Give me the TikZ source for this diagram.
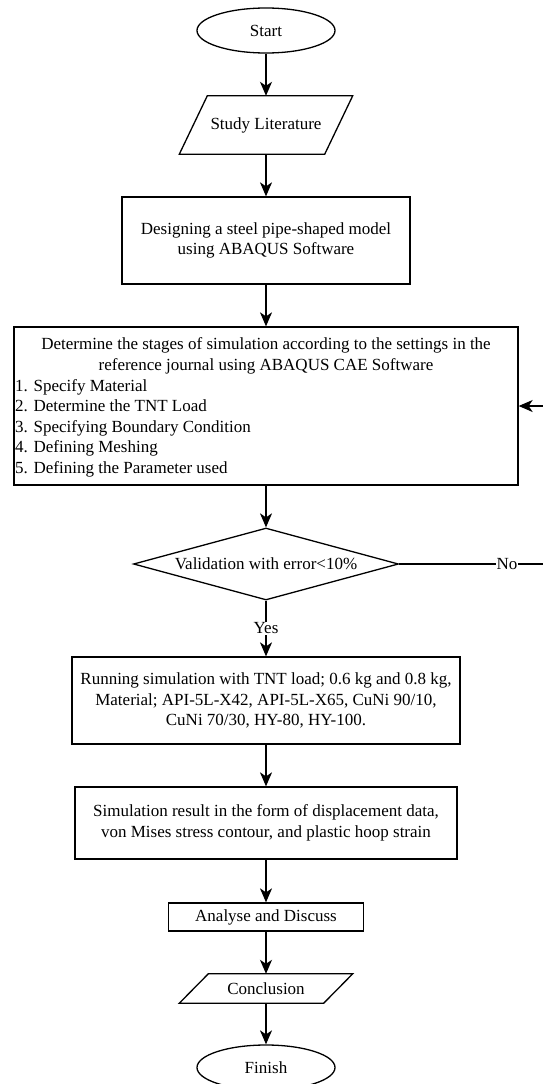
\documentclass[tikz,border=0pt]{standalone}
\usepackage{fontspec}
\setmainfont{Liberation Serif}
\usetikzlibrary{shapes.geometric,arrows.meta}
\begin{document}
\begin{tikzpicture}[x=1pt,y=-1pt,
  every node/.style={font=\fontsize{17}{20.5}\selectfont},
  base/.style={draw, line width=1.3pt, inner sep=0pt},
  box/.style={base, rectangle, align=center},
  term/.style={base, ellipse},
  dec/.style={base, diamond, aspect=3.68},
  para/.style={rectangle, inner sep=0pt},
  paraline/.style={line width=1.3pt, line join=miter},
  arr/.style={line width=1.3pt, -{Stealth[length=14pt,width=12pt,inset=4pt]}},
  lbl/.style={fill=white, inner sep=1pt}
]
\useasboundingbox (0,0) rectangle (543,1084);

\node[term, minimum width=138pt, minimum height=45pt] (start) at (266,30.5) {Start};
\node[para, minimum width=173pt, minimum height=58pt] (study) at (266,125) {Study Literature};
\draw[paraline] ([xshift=28pt]study.north west) -- (study.north east) -- ([xshift=-28pt]study.south east) -- (study.south west) -- cycle;

\node[box, minimum width=288pt, minimum height=87pt] (design) at (266,240.5) {Designing a steel pipe-shaped model\\using ABAQUS Software};

\node[box, minimum width=504pt, minimum height=158pt] (stages) at (266,406) {};
\node[align=center] (stagesh) at (266,356) {Determine the stages of simulation according to the settings in the\\reference journal using ABAQUS CAE Software};
\node[align=left, anchor=west, inner sep=0pt] (stagesl) at (15,428) {1. Specify Material\\2. Determine the TNT Load\\3. Specifying Boundary Condition\\4. Defining Meshing\\5. Defining the Parameter used};

\node[dec, minimum width=265pt, minimum height=72pt] (valid) at (266,564) {Validation with error<10\%};

\node[box, minimum width=388pt, minimum height=87pt] (run) at (266,700.5) {Running simulation with TNT load; 0.6 kg and 0.8 kg,\\Material; API-5L-X42, API-5L-X65, CuNi 90/10,\\CuNi 70/30, HY-80, HY-100.};

\node[box, minimum width=382pt, minimum height=72pt] (res) at (266,823) {Simulation result in the form of displacement data,\\von Mises stress contour, and plastic hoop strain};

\node[box, minimum width=195pt, minimum height=28pt] (anal) at (266,917) {Analyse and Discuss};

\node[para, minimum width=173pt, minimum height=29pt] (concl) at (266,988.5) {Conclusion};
\draw[paraline] ([xshift=29pt]concl.north west) -- (concl.north east) -- ([xshift=-29pt]concl.south east) -- (concl.south west) -- cycle;

\node[term, minimum width=138pt, minimum height=45pt] (finish) at (266,1067.5) {Finish};

\draw[arr] (start.south) -- (study.north);
\draw[arr] (study.south) -- (design.north);
\draw[arr] (design.south) -- (stages.north);
\draw[arr] (stages.south) -- (valid.north);
\draw[arr] (valid.south) -- node[lbl]{Yes} (run.north);
\draw[arr] (run.south) -- (res.north);
\draw[arr] (res.south) -- (anal.north);
\draw[arr] (anal.south) -- (concl.north);
\draw[arr] (concl.south) -- (finish.north);

\coordinate (loopR) at (560,564);
\draw[arr] (valid.east) -- node[lbl, pos=0.67]{No} (loopR) |- (stages.east);
\end{tikzpicture}
\end{document}
